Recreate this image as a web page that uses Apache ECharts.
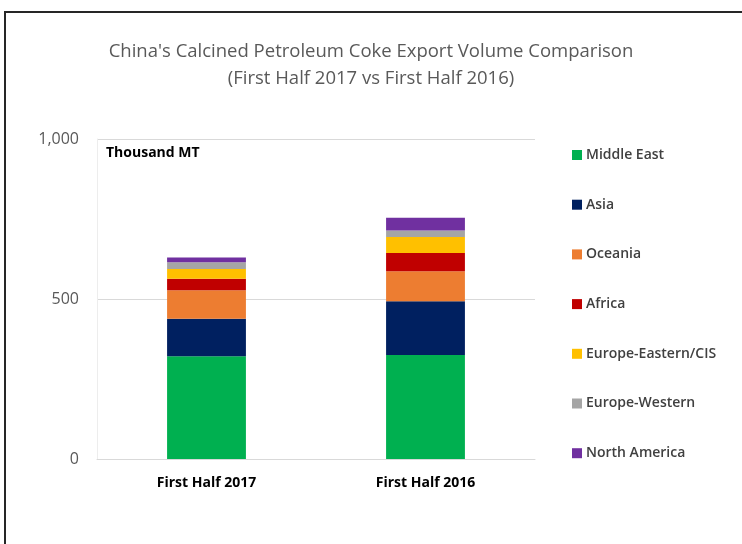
<!DOCTYPE html>
<html>
<head>
<meta charset="utf-8">
<script src="https://cdn.jsdelivr.net/npm/echarts@6/dist/echarts.min.js"></script>
<style>
  html, body { margin: 0; padding: 0; background: #fff; }
  #chart { width: 742px; height: 544px; }
</style>
</head>
<body>
<div id="chart"></div>
<script>
// Export volume by destination region, thousand metric tons
const periods = ['First Half 2017', 'First Half 2016'];
const middleEast = [321, 325];
const asia = [117, 168];
const oceania = [89, 94];
const africa = [36, 57];
const europeEastern = [31, 50];
const europeWestern = [21, 20];
const northAmerica = [15, 40];
const yTicks = [0, 500, 1000];

const regions = [
  { name: 'Middle East', data: middleEast, color: '#00B050' },
  { name: 'Asia', data: asia, color: '#002060' },
  { name: 'Oceania', data: oceania, color: '#ED7D31' },
  { name: 'Africa', data: africa, color: '#C00000' },
  { name: 'Europe-Eastern/CIS', data: europeEastern, color: '#FFC000' },
  { name: 'Europe-Western', data: europeWestern, color: '#A5A5A5' },
  { name: 'North America', data: northAmerica, color: '#7030A0' }
];

const chart = echarts.init(document.getElementById('chart'), null, { renderer: 'canvas' });
const font = '"Open Sans", "Noto Sans", sans-serif';

chart.setOption({
  animation: false,
  backgroundColor: '#ffffff',
  textStyle: { fontFamily: font },
  graphic: [
    {
      type: 'rect',
      shape: { x: 5, y: 12, width: 760, height: 560 },
      style: { fill: 'none', stroke: '#262626', lineWidth: 2 },
      silent: true
    },
    {
      type: 'text',
      left: 106, top: 146,
      style: { text: 'Thousand MT', font: 'bold 14px ' + font, fill: '#000000' }
    }
  ],
  title: {
    text: "China's Calcined Petroleum Coke Export Volume Comparison\n(First Half 2017 vs First Half 2016)",
    left: 'center',
    top: 33,
    textStyle: { fontFamily: font, fontSize: 18.5, fontWeight: 'normal', color: '#595959', lineHeight: 27 }
  },
  legend: {
    orient: 'vertical',
    left: 567,
    top: 142,
    itemWidth: 10,
    itemHeight: 10,
    itemGap: 33.7,
    icon: 'rect',
    textStyle: { fontFamily: font, fontSize: 14, color: '#404040', fontWeight: 600, lineHeight: 16, padding: [0, 0, 0, -1] },
    data: regions.map(r => r.name)
  },
  grid: { left: 97, right: 207, top: 139, bottom: 85, containLabel: false },
  xAxis: {
    type: 'category',
    data: periods,
    axisLine: { show: true, lineStyle: { color: '#D9D9D9', width: 1 } },
    axisTick: { show: false },
    axisLabel: { color: '#000000', fontWeight: 'bold', fontSize: 14, margin: 17, fontFamily: font }
  },
  yAxis: {
    type: 'value',
    min: yTicks[0],
    max: yTicks[yTicks.length - 1],
    interval: yTicks[1] - yTicks[0],
    axisLine: { show: true, lineStyle: { color: '#EDEDED' } },
    axisTick: { show: false },
    splitLine: { lineStyle: { color: '#D9D9D9' } },
    axisLabel: {
      color: '#595959', fontSize: 16, margin: 18, fontFamily: font,
      formatter: v => v.toLocaleString('en-US')
    }
  },
  series: regions.map(r => ({
    name: r.name,
    type: 'bar',
    stack: 'total',
    barWidth: '36%',
    data: r.data,
    itemStyle: { color: r.color }
  }))
});
</script>
</body>
</html>
